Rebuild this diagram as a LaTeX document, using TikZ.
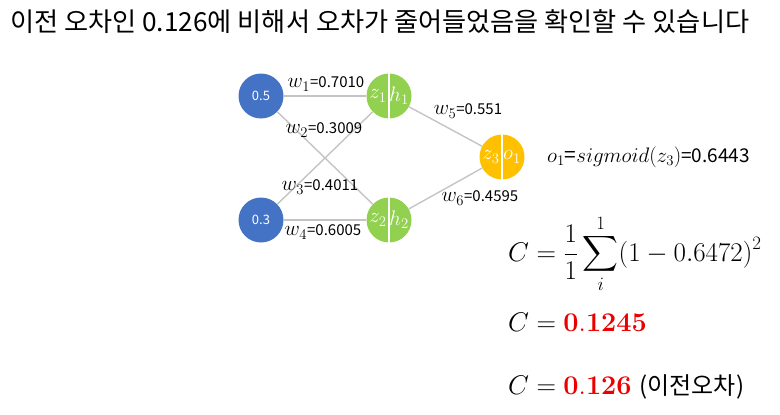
\RequirePackage{fix-cm}
\documentclass[tikz,border=0pt]{standalone}
\usepackage{amsmath}
\usepackage[no-math]{fontspec}
\setmainfont{Noto Sans CJK KR}
\usetikzlibrary{positioning}
\usepackage{xcolor}
\definecolor{inblue}{RGB}{68,114,196}
\definecolor{hidgreen}{RGB}{146,208,80}
\definecolor{outgold}{RGB}{255,192,0}
\definecolor{edgegray}{RGB}{196,196,196}
\definecolor{costred}{RGB}{235,0,0}

\newcommand{\wsym}[1]{{\fontsize{21}{23}\selectfont$w_{#1}$}}

\tikzset{
  neuron/.style={circle, minimum size=45pt, inner sep=0pt, text=white},
  inlabel/.style={text=white, inner sep=0pt, font=\fontsize{21}{23}\selectfont},
  link/.style={edgegray, line width=1.4pt},
  wlabel/.style={inner sep=1pt, font=\fontsize{15}{17}\selectfont},
  split/.style={white, line width=2pt},
}

\begin{document}
\begin{tikzpicture}[x=1pt,y=-1pt]
  \useasboundingbox (0,0) rectangle (780,415);
  \node[anchor=west, inner sep=0pt, font=\fontsize{26.2}{30}\selectfont] (title) at (10,22)
    {이전 오차인 0.126에 비해서 오차가 줄어들었음을 확인할 수 있습니다};
  % Inputs
  \node[neuron, fill=inblue, font=\fontsize{13}{15}\selectfont] (x1) at (261,96) {0.5};
  \node[neuron, fill=inblue, font=\fontsize{13}{15}\selectfont] (x2) at (261,220) {0.3};
  % Hidden
  \node[neuron, fill=hidgreen] (n1) at (389,96) {};
  \node[neuron, fill=hidgreen] (n2) at (389,220) {};
  % Output
  \node[neuron, fill=outgold] (n3) at (502,157) {};
  \draw[split] (n1.north) -- (n1.south);
  \draw[split] (n2.north) -- (n2.south);
  \draw[split] (n3.north) -- (n3.south);
  \node[inlabel] (z1) at ([xshift=-11pt]n1.center) {$z_1$};
  \node[inlabel] (h1) at ([xshift=10pt]n1.center) {$h_1$};
  \node[inlabel] (z2) at ([xshift=-11pt]n2.center) {$z_2$};
  \node[inlabel] (h2) at ([xshift=10pt]n2.center) {$h_2$};
  \node[inlabel] (z3) at ([xshift=-11pt]n3.center) {$z_3$};
  \node[inlabel] (o1) at ([xshift=10pt]n3.center) {$o_1$};
  % Links
  \draw[link] (x1) -- (n1);
  \draw[link] (x1) -- (n2);
  \draw[link] (x2) -- (n1);
  \draw[link] (x2) -- (n2);
  \draw[link] (n1) -- (n3);
  \draw[link] (n2) -- (n3);
  % Weights
  \node[wlabel] (w1) at (326,84) {\wsym{1}=0.7010};
  \node[wlabel] (w2) at (324,130) {\wsym{2}=0.3009};
  \node[wlabel] (w3) at (320,187) {\wsym{3}=0.4011};
  \node[wlabel] (w4) at (323,232) {\wsym{4}=0.6005};
  \node[wlabel] (w5) at (468,111) {\wsym{5}=0.551};
  \node[wlabel] (w6) at (480,198) {\wsym{6}=0.4595};
  % Cost
  \node[anchor=west, inner sep=0pt, font=\fontsize{19}{21}\selectfont] (sig) at (547,157)
    {{\fontsize{21}{23}\selectfont$o_1$=$sigmoid(z_3)$}=0.6443};
  \node[anchor=west, inner sep=0pt, font=\fontsize{27}{31}\selectfont] (cost) at (508,254)
    {$\displaystyle C=\frac{1}{1}\sum_{i}^{1}(1-0.6472)^2$};
  \node[anchor=west, inner sep=0pt, font=\fontsize{27}{31}\selectfont] (newc) at (508,322)
    {$C=\color{costred}\mathbf{0.1245}$};
  \node[anchor=west, inner sep=0pt, font=\fontsize{27}{31}\selectfont] (oldc) at (508,387)
    {$C=\color{costred}\mathbf{0.126}$\hspace{8pt}\fontsize{24}{27}\selectfont(이전오차)};
\end{tikzpicture}
\end{document}
